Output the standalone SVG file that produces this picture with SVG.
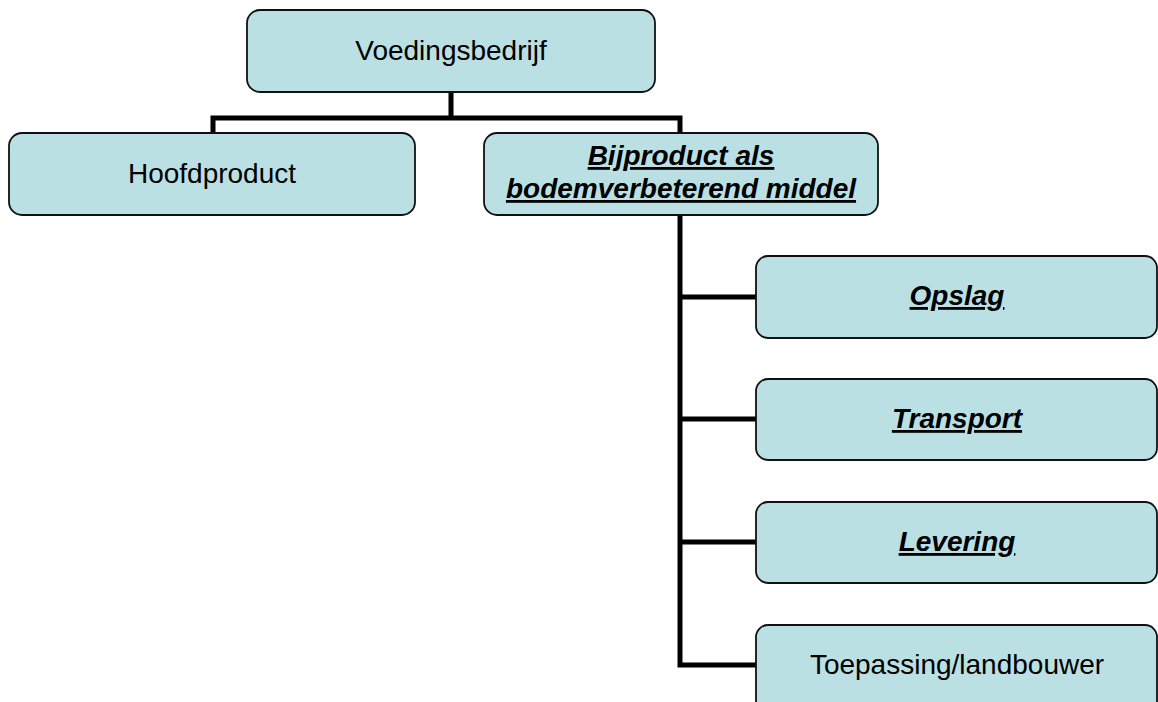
<svg xmlns="http://www.w3.org/2000/svg" width="1158" height="702" viewBox="0 0 1158 702">
<style>
.box{fill:#BAE0E3;stroke:#111;stroke-width:1.8}
.t{font-family:"Liberation Sans",Arial,sans-serif;font-size:28px;fill:#000;text-anchor:middle}
.b{font-weight:bold;font-style:italic;text-decoration:underline}
.c{fill:none;stroke:#000;stroke-width:5;stroke-linecap:butt;stroke-linejoin:miter}
</style>
<rect width="1158" height="702" fill="#fff"/>
<g id="connectors">
<path class="c" d="M451,92 V118 M213,133 V118 H680 V133"/>
<path class="c" d="M680,215 V665 H756 M680,297 H756 M680,419 H756 M680,542 H756"/>
</g>
<g id="voedingsbedrijf">
<rect class="box" x="247" y="10" width="408" height="82" rx="13"/>
<text class="t" x="451" y="60">Voedingsbedrijf</text>
</g>
<g id="hoofdproduct">
<rect class="box" x="9" y="133" width="406" height="82" rx="13"/>
<text class="t" x="212" y="183">Hoofdproduct</text>
</g>
<g id="bijproduct">
<rect class="box" x="484" y="133" width="394" height="82" rx="13"/>
<text class="t b" x="681" y="165">Bijproduct als</text>
<text class="t b" x="681" y="198">bodemverbeterend middel</text>
</g>
<g id="opslag">
<rect class="box" x="756" y="256" width="401" height="82" rx="12"/>
<text class="t b" x="957" y="305">Opslag</text>
</g>
<g id="transport">
<rect class="box" x="756" y="379" width="401" height="81" rx="12"/>
<text class="t b" x="957" y="428">Transport</text>
</g>
<g id="levering">
<rect class="box" x="756" y="502" width="401" height="81" rx="12"/>
<text class="t b" x="957" y="551">Levering</text>
</g>
<g id="toepassing">
<rect class="box" x="756" y="625" width="401" height="90" rx="12"/>
<text class="t" x="957" y="674">Toepassing/landbouwer</text>
</g>
</svg>
